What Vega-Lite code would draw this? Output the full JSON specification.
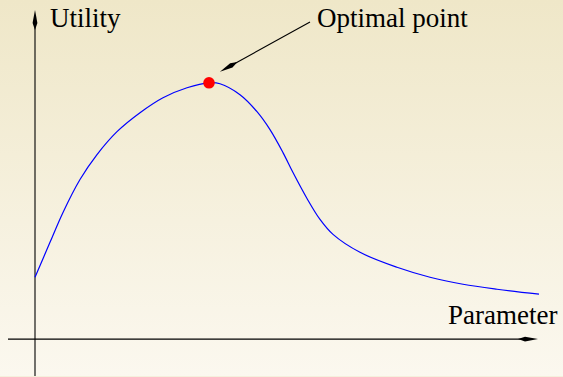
{
  "$schema": "https://vega.github.io/schema/vega-lite/v6.json",
  "width": 563,
  "height": 377,
  "autosize": {"type": "fit", "contains": "padding"},
  "padding": 0,
  "background": "#f5f0dc",
  "view": {
    "stroke": null,
    "fill": {
      "gradient": "linear",
      "x1": 0, "y1": 0, "x2": 0, "y2": 1,
      "stops": [
        {"offset": 0, "color": "#efe7c8"},
        {"offset": 1, "color": "#fbf8ef"}
      ]
    }
  },
  "datasets": {
    "curve": [
      {"parameter": 0, "utility": 62},
      {"parameter": 15, "utility": 97},
      {"parameter": 28, "utility": 127},
      {"parameter": 45, "utility": 160},
      {"parameter": 62, "utility": 185},
      {"parameter": 82, "utility": 208},
      {"parameter": 105, "utility": 227},
      {"parameter": 128, "utility": 242},
      {"parameter": 152, "utility": 252},
      {"parameter": 174, "utility": 257},
      {"parameter": 185, "utility": 256},
      {"parameter": 205, "utility": 245},
      {"parameter": 222, "utility": 228},
      {"parameter": 235, "utility": 210},
      {"parameter": 248, "utility": 187},
      {"parameter": 258, "utility": 167},
      {"parameter": 272, "utility": 141},
      {"parameter": 285, "utility": 120},
      {"parameter": 298, "utility": 105},
      {"parameter": 325, "utility": 87},
      {"parameter": 362, "utility": 72},
      {"parameter": 395, "utility": 62},
      {"parameter": 428, "utility": 55},
      {"parameter": 462, "utility": 50},
      {"parameter": 504, "utility": 45}
    ],
    "optimum": [{"parameter": 174, "utility": 257}],
    "lines": [
      {"name": "y axis", "x1": 0, "y1": -37, "x2": 0, "y2": 320},
      {"name": "x axis", "x1": -27, "y1": 0, "x2": 493, "y2": 0},
      {"name": "pointer", "x1": 275, "y1": 318, "x2": 194, "y2": 273}
    ],
    "heads": [
      {"name": "y axis", "x": 0, "y": 320, "angle": 0},
      {"name": "x axis", "x": 493, "y": 0, "angle": 90},
      {"name": "pointer", "x": 193.7, "y": 272.9, "angle": 241}
    ],
    "labels": [
      {"label": "Utility", "x": 15, "y": 313},
      {"label": "Optimal point", "x": 282, "y": 313},
      {"label": "Parameter", "x": 413, "y": 15}
    ]
  },
  "layer": [
    {
      "data": {"name": "lines"},
      "mark": {"type": "rule", "color": "#000000", "strokeWidth": 1.1},
      "encoding": {
        "x": {"field": "x1", "type": "quantitative", "scale": {"domain": [-35, 528], "nice": false, "zero": false}, "axis": null},
        "y": {"field": "y1", "type": "quantitative", "scale": {"domain": [-37, 340], "nice": false, "zero": false}, "axis": null},
        "x2": {"field": "x2"},
        "y2": {"field": "y2"}
      }
    },
    {
      "data": {"name": "heads"},
      "mark": {"type": "point", "filled": true, "shape": "M0,-1L0.24,0.3L0,1L-0.24,0.3Z", "size": 400, "color": "#000000", "opacity": 1, "strokeWidth": 0},
      "encoding": {
        "x": {"field": "x", "type": "quantitative"},
        "y": {"field": "y", "type": "quantitative"},
        "angle": {"field": "angle", "type": "quantitative", "scale": null}
      }
    },
    {
      "data": {"name": "curve"},
      "mark": {"type": "line", "color": "#0000ff", "strokeWidth": 1.2, "interpolate": "catmull-rom"},
      "encoding": {
        "x": {"field": "parameter", "type": "quantitative"},
        "y": {"field": "utility", "type": "quantitative"}
      }
    },
    {
      "data": {"name": "optimum"},
      "mark": {"type": "point", "filled": true, "shape": "circle", "size": 135, "color": "#ff0000", "opacity": 1},
      "encoding": {
        "x": {"field": "parameter", "type": "quantitative"},
        "y": {"field": "utility", "type": "quantitative"}
      }
    },
    {
      "data": {"name": "labels"},
      "mark": {"type": "text", "font": "Liberation Serif", "fontSize": 27, "align": "left", "baseline": "alphabetic", "color": "#000000"},
      "encoding": {
        "x": {"field": "x", "type": "quantitative"},
        "y": {"field": "y", "type": "quantitative"},
        "text": {"field": "label"}
      }
    }
  ]
}
